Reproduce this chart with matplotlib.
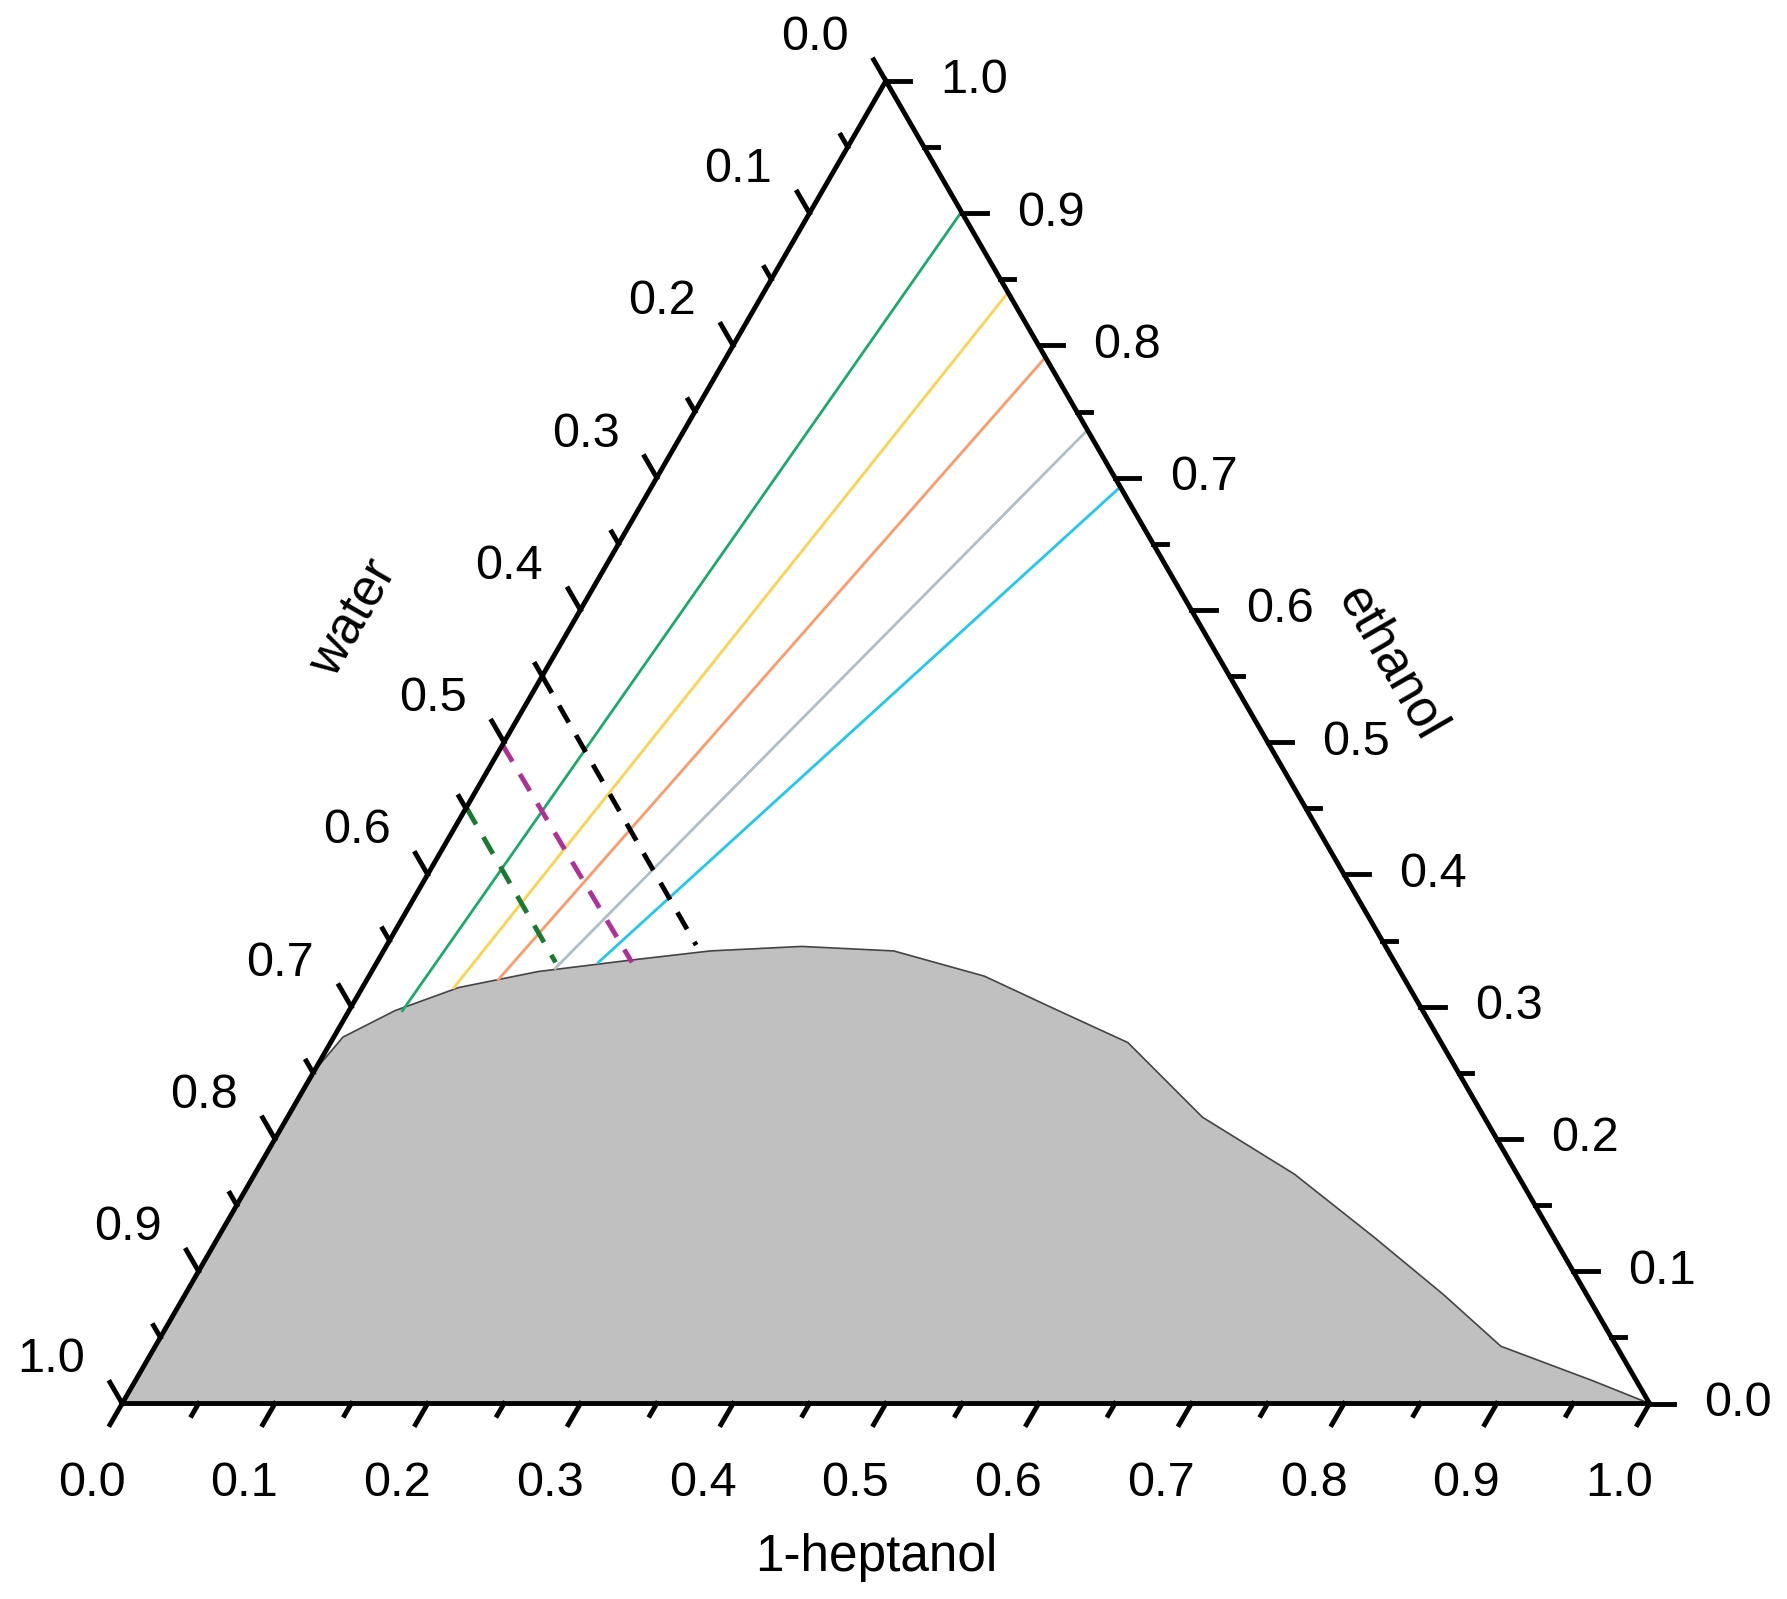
import numpy as np
import matplotlib
matplotlib.use("Agg")
import matplotlib.pyplot as plt

plt.rcParams['font.family'] = ['Liberation Sans', 'DejaVu Sans']

# binodal curve (heptanol, ethanol) fractions
bin_h = [0.0, 0.0, 0.006, 0.030, 0.063, 0.109, 0.165, 0.214, 0.272, 0.334, 0.403, 0.460, 0.522, 0.599, 0.681, 0.757, 0.824, 0.881, 0.954, 1.0]
bin_e = [0.0, 0.251, 0.277, 0.297, 0.3145, 0.3266, 0.3352, 0.3422, 0.3456, 0.3422, 0.3231, 0.2989, 0.2729, 0.2165, 0.1733, 0.1256, 0.0823, 0.0433, 0.0173, 0.0]

# tie lines: (h1,e1) -> (h2,e2)
tie_h1 = [0.035, 0.060, 0.086, 0.119, 0.145]
tie_e1 = [0.297, 0.3145, 0.3205, 0.329, 0.3335]
tie_e2 = [0.901, 0.840, 0.791, 0.736, 0.693]
tie_colors = ["#1aaa6a", "#ffd24d", "#ff9966", "#b0bec5", "#1ec8f0"]

# dashed lines
dash_e1 = [0.550, 0.498, 0.4506]
dash_h2 = [0.2025, 0.167, 0.117]
dash_e2 = [0.3466, 0.3335, 0.3335]
dash_colors = ["black", "#b0309a", "#1a7a30"]

S = np.sqrt(3) / 2
def xy(h, e):
    h = np.asarray(h, float); e = np.asarray(e, float)
    return h + e / 2, e * S

fig = plt.figure(figsize=(17.87, 15.99), dpi=100)
ax = fig.add_axes([0, 0, 1, 1])
ax.set_xlim(-0.080, 1.090)
ax.set_ylim(-0.128, 0.919)
ax.axis("off")

x, y = xy(bin_h, bin_e)
ax.fill(x, y, facecolor="#c0c0c0", edgecolor="#444444", lw=1.2, zorder=1)

for h1, e1, e2, c in zip(tie_h1, tie_e1, tie_e2, tie_colors):
    x, y = xy([h1, 1 - e2], [e1, e2])
    ax.plot(x, y, color=c, lw=2, zorder=2)
for e1, h2, e2, c in zip(dash_e1, dash_h2, dash_e2, dash_colors):
    x, y = xy([0, h2], [e1, e2])
    ax.plot(x, y, color=c, lw=3.5, ls=(0, (4, 3)), zorder=2)

# triangle
x, y = xy([0, 1, 0, 0], [0, 0, 1, 0])
ax.plot(x, y, color="black", lw=3.5, zorder=3, solid_joinstyle="miter")

fs = 35
d_bottom = np.array([-0.5, -S]); d_right = np.array([1.0, 0.0]); d_left = np.array([-0.5, S])
for i in range(21):
    t = i / 20
    L = 0.016 if i % 2 == 0 else 0.009
    p = np.array(xy(t, 0)); q = p + L * d_bottom
    ax.plot([p[0], q[0]], [p[1], q[1]], color="black", lw=3.5, zorder=3)
    p = np.array(xy(1 - t, t)); q = p + L * d_right
    ax.plot([p[0], q[0]], [p[1], q[1]], color="black", lw=3.5, zorder=3)
    p = np.array(xy(0, 1 - t)); q = p + L * d_left
    ax.plot([p[0], q[0]], [p[1], q[1]], color="black", lw=3.5, zorder=3)
    if i % 2 == 0:
        lab = f"{t:.1f}"
        bx, by = xy(t, 0)
        ax.text(bx - 0.020, by - 0.0525, lab, fontsize=fs, ha="center", va="center")
        rx, ry = xy(1 - t, t)
        ax.text(rx + 0.058, ry, lab, fontsize=fs, ha="center", va="center")
        lx, ly = xy(0, 1 - t)
        ax.text(lx - 0.0465, ly + 0.0285, lab, fontsize=fs, ha="center", va="center")

ax.text(0.494, -0.101, "1-heptanol", fontsize=fs + 2, ha="center", va="center")
ax.text(0.152, 0.514, "water", fontsize=fs + 2, ha="center", va="center", rotation=60)
ax.text(0.831, 0.484, "ethanol", fontsize=fs + 2, ha="center", va="center", rotation=-60)

fig.savefig("out.png", dpi=100)
